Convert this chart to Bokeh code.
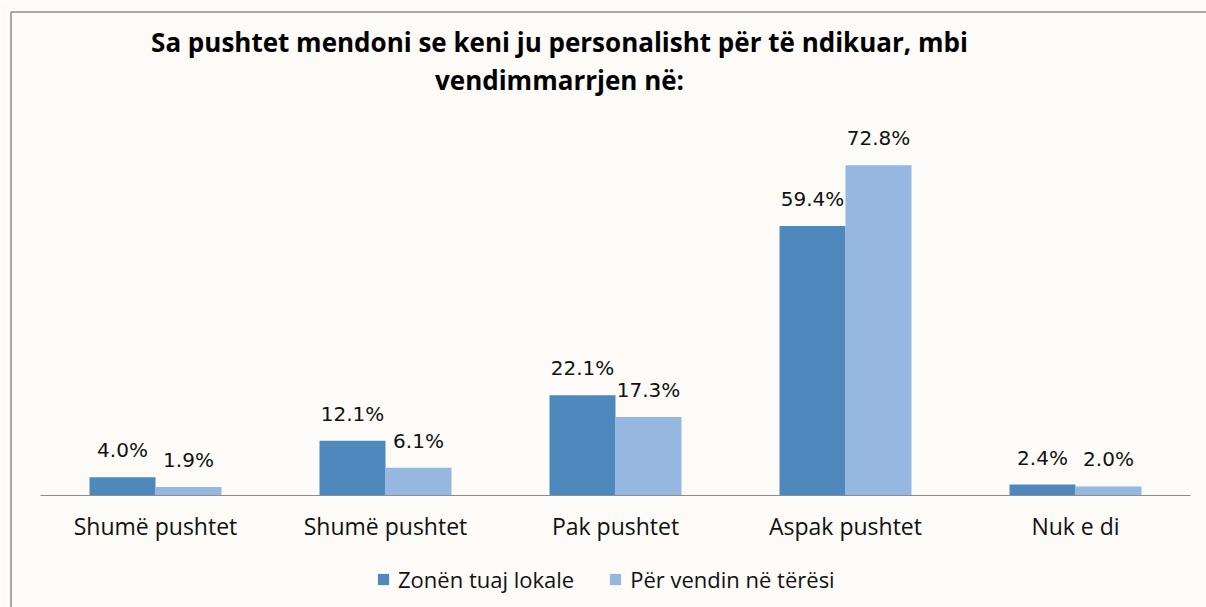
from bokeh.plotting import figure
from bokeh.models import ColumnDataSource, Range1d, Label, Legend, LegendItem
from bokeh.core.properties import value
from bokeh.transform import dodge
from bokeh.embed import file_html
from bokeh.resources import INLINE

# ---- data ----
categories = ["Shumë pushtet", "Shumë pushtet", "Pak pushtet", "Aspak pushtet", "Nuk e di"]
zone_local = [4.0, 12.1, 22.1, 59.4, 2.4]
whole_country = [1.9, 6.1, 17.3, 72.8, 2.0]
series_names = ["Zonën tuaj lokale", "Për vendin në tërësi"]
title_lines = ["Sa pushtet mendoni se keni ju personalisht për të ndikuar, mbi",
               "vendimmarrjen në:"]

# ---- layout constants ----
W, H = 1206, 607
PX_X = 230.0      # pixels per category step
PX_Y = 4.535      # pixels per percent
X0_PX = 155.0     # canvas x of first category centre
BASE_PX = 495.0   # canvas y of zero line
BG = "#FCFBF8"
DARK = "#4F88BD"
LIGHT = "#96B8E0"
FONT = "Open Sans"

x_start = -X0_PX / PX_X
x_end = x_start + W / PX_X
y_end = BASE_PX / PX_Y
y_start = y_end - H / PX_Y

p = figure(width=W, height=H, output_backend="svg", toolbar_location=None,
           x_axis_type=None, y_axis_type=None,
           x_range=Range1d(x_start, x_end), y_range=Range1d(y_start, y_end),
           min_border=0, min_border_left=0, min_border_right=0,
           min_border_top=0, min_border_bottom=0)
p.background_fill_color = BG
p.border_fill_color = BG
p.outline_line_color = None

idx = list(range(len(categories)))
src = ColumnDataSource(dict(
    x=idx, cat=categories, zone=zone_local, country=whole_country,
    zl=[f"{v:.1f}%" for v in zone_local],
    cl=[f"{v:.1f}%" for v in whole_country],
))

bw = 66.0 / PX_X
off = bw / 2
r1 = p.vbar(x=dodge("x", -off, range=p.x_range), top="zone", width=bw, bottom=0,
            source=src, fill_color=DARK, line_color=None)
r2 = p.vbar(x=dodge("x", off, range=p.x_range), top="country", width=bw, bottom=0,
            source=src, fill_color=LIGHT, line_color=None)

# value labels
p.text(x=dodge("x", -off, range=p.x_range), y="zone", text="zl", source=src,
       y_offset=-27, text_align="center", text_baseline="alphabetic",
       text_font=value("DejaVu Sans"), text_font_size="20px", text_color="#111111")
p.text(x=dodge("x", off, range=p.x_range), y="country", text="cl", source=src,
       y_offset=-27, text_align="center", text_baseline="alphabetic",
       text_font=value("DejaVu Sans"), text_font_size="20px", text_color="#111111")

# category labels
p.text(x="x", y=0, text="cat", source=src, y_offset=30,
       text_align="center", text_baseline="alphabetic",
       text_font=value(FONT), text_font_size="23px", text_color="#111111")

# baseline axis line
p.segment(x0=[-0.5], y0=[0], x1=[len(categories) - 0.5], y1=[0],
          line_color="#8C8C8C", line_width=1)

# chart border (left and top edges; right/bottom fall outside the picture)
bx = x_start + 10.5 / PX_X
by = y_end - 11.5 / PX_Y
p.segment(x0=[bx, bx], y0=[by, by], x1=[x_end + 1, bx], y1=[by, y_start - 1],
          line_color="#8C8C8C", line_width=1.5)

# title
p.add_layout(Label(x=559, y=H - 41, x_units="screen", y_units="screen",
                   text=title_lines[0], text_align="center", text_baseline="middle",
                   text_font=FONT, text_font_style="bold", text_font_size="26px",
                   text_color="#000000"))
p.add_layout(Label(x=559, y=H - 79, x_units="screen", y_units="screen",
                   text=title_lines[1], text_align="center", text_baseline="middle",
                   text_font=FONT, text_font_style="bold", text_font_size="26px",
                   text_color="#000000"))

legend = Legend(items=[LegendItem(label=series_names[0], renderers=[r1]),
                       LegendItem(label=series_names[1], renderers=[r2])],
                orientation="horizontal", location=(376, 13),
                glyph_width=14, glyph_height=14, label_standoff=8, spacing=34,
                padding=0, margin=0, border_line_color=None,
                background_fill_alpha=0,
                label_text_font=FONT, label_text_font_size="22px",
                label_text_color="#111111")
p.add_layout(legend)

open("out.html", "w").write(file_html(p, INLINE))
